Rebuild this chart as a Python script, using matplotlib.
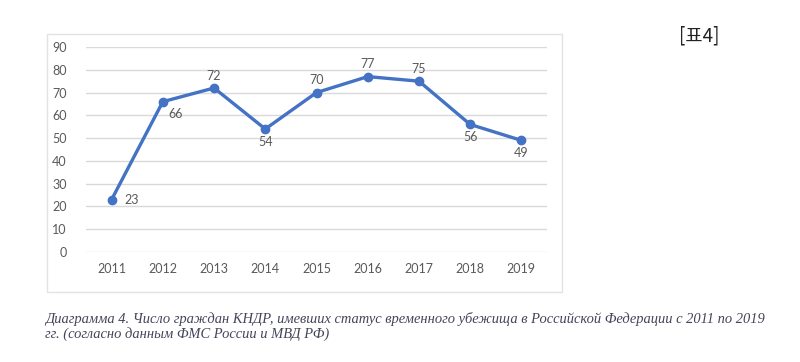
import matplotlib
matplotlib.use("Agg")
import matplotlib.pyplot as plt
from matplotlib.patches import Rectangle

years = [2011, 2012, 2013, 2014, 2015, 2016, 2017, 2018, 2019]
values = [23, 66, 72, 54, 70, 77, 75, 56, 49]
# where each data label sits relative to its point
label_pos = ['right', 'below_right', 'above', 'below', 'above', 'above', 'above', 'below', 'below']
yticks = list(range(0, 91, 10))

caption1 = ("Диаграмма 4. Число граждан КНДР, имевших статус временного убежища "
            "в Российской Федерации с 2011 по 2019")
caption2 = "гг. (согласно данным ФМС России и МВД РФ)"
tag = "[표4]"

W, H = 800, 362
fig = plt.figure(figsize=(W / 100, H / 100), dpi=100)
fig.patch.set_facecolor('white')

# light frame around chart area
fig.patches.append(Rectangle((47 / W, 1 - 292 / H), (562 - 47) / W, (292 - 34) / H,
                             transform=fig.transFigure, fill=False,
                             edgecolor='#e3e3e3', lw=1))

ax = fig.add_axes([86 / W, 1 - 252 / H, (547 - 86) / W, (252 - 47) / H])
ax.set_xlim(2010.5, 2019.5)
ax.set_ylim(0, 90)
ax.set_yticks(yticks)
ax.set_xticks(years)
ax.grid(axis='y', color='#d9d9d9', lw=1)
ax.set_axisbelow(True)
for s in ax.spines.values():
    s.set_visible(False)
ax.tick_params(length=0, labelsize=9, labelcolor='#595959', pad=8)
for t in ax.get_xticklabels() + ax.get_yticklabels():
    t.set_family('Lato')
ax.tick_params(axis='y', pad=14)

ax.plot(years, values, color='#4472c4', lw=2.4, marker='o', ms=6, zorder=3,
        solid_joinstyle='round')

offsets = {'right': (9, 0, 'left', 'center'),
           'below_right': (4, -9, 'left', 'center'),
           'above': (0, 9, 'center', 'center'),
           'below': (0, -9, 'center', 'center')}
for x, v, p in zip(years, values, label_pos):
    dx, dy, ha, va = offsets[p]
    ax.annotate(str(v), (x, v), xytext=(dx, dy), textcoords='offset points',
                ha=ha, va=va, fontsize=9, color='#595959', family='Lato')

fig.text(679 / W, 1 - 36 / H, tag, fontsize=13.5, color='#222222',
         family=['Noto Sans CJK KR', 'DejaVu Sans'], ha='left', va='center')

c1 = fig.text(45 / W, 1 - 319 / H, caption1, fontsize=9, style='italic',
              family='Liberation Serif', color='#44445a', ha='left', va='center')
fig.canvas.draw()
w = c1.get_window_extent().width
fs = 9 * 722 / w
c1.set_fontsize(fs)
fig.text(45 / W, 1 - 334 / H, caption2, fontsize=fs, style='italic',
         family='Liberation Serif', color='#44445a', ha='left', va='center')

fig.savefig('out.png', dpi=100)
